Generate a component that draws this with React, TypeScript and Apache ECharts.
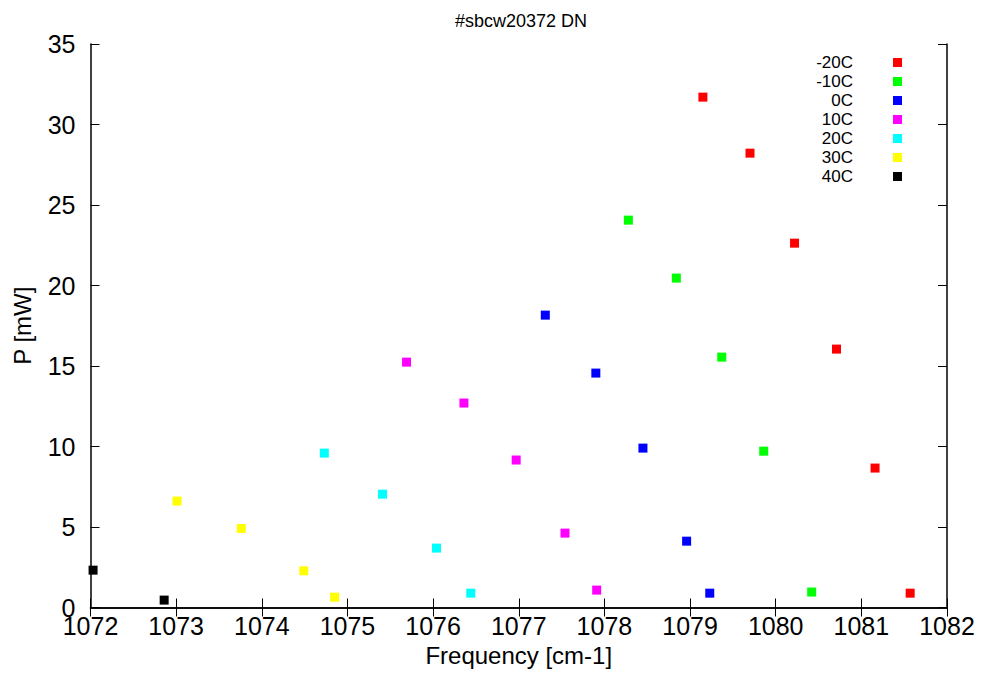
import React, { useEffect, useRef } from "react";
import * as echarts from "echarts";

const TITLE = "#sbcw20372 DN";
const X_NAME = "Frequency [cm-1]";
const Y_NAME = "P [mW]";

const SERIES_NAMES = ["-20C", "-10C", "0C", "10C", "20C", "30C", "40C"];
const SERIES_COLORS = ["#ff0000", "#00ff00", "#0000ff", "#ff00ff", "#00ffff", "#ffff00", "#000000"];

const dataM20C = [[1079.15, 31.7], [1079.7, 28.22], [1080.22, 22.63], [1080.71, 16.05], [1081.16, 8.66], [1081.57, 0.89]];
const dataM10C = [[1078.28, 24.06], [1078.84, 20.46], [1079.37, 15.55], [1079.86, 9.71], [1080.42, 0.96]];
const data0C = [[1077.31, 18.16], [1077.9, 14.56], [1078.45, 9.9], [1078.96, 4.12], [1079.23, 0.89]];
const data10C = [[1075.69, 15.24], [1076.36, 12.7], [1076.97, 9.16], [1077.54, 4.62], [1077.91, 1.08]];
const data20C = [[1074.73, 9.59], [1075.41, 7.04], [1076.04, 3.69], [1076.44, 0.89]];
const data30C = [[1073.01, 6.61], [1073.76, 4.91], [1074.49, 2.28], [1074.85, 0.64]];
const data40C = [[1072.03, 2.32], [1072.86, 0.46]];

const SERIES_DATA = [dataM20C, dataM10C, data0C, data10C, data20C, data30C, data40C];

const X_MIN = 1072;
const X_MAX = 1082;
const X_STEP = 1;
const Y_MIN = 0;
const Y_MAX = 35;
const Y_STEP = 5;

const FONT = "Liberation Sans, Arial, sans-serif";

export default function App() {
  const ref = useRef<HTMLDivElement>(null);

  useEffect(() => {
    if (!ref.current) return;
    const chart = echarts.init(ref.current, undefined, { renderer: "svg" });
    const axisLine = { show: true, lineStyle: { color: "#000", width: 1.5 } };
    const axisTick = { show: true, inside: true, length: 9, lineStyle: { color: "#000", width: 1 } };
    chart.setOption({
      animation: false,
      backgroundColor: "#fff",
      textStyle: { fontFamily: FONT },
      title: {
        text: TITLE,
        left: 516,
        top: 7,
        textAlign: "center",
        textStyle: { fontSize: 18, fontWeight: "normal", color: "#000", fontFamily: FONT },
      },
      legend: {
        orient: "vertical",
        right: 84,
        top: 53,
        align: "right",
        padding: 0,
        itemGap: 0,
        itemWidth: 9,
        itemHeight: 9,
        icon: "rect",
        data: SERIES_NAMES,
        textStyle: {
          fontSize: 17,
          color: "#000",
          fontFamily: FONT,
          lineHeight: 19,
          padding: [0, 35, 0, 0],
        },
      },
      grid: {
        left: 90.5,
        right: 39,
        top: 44,
        bottom: 67.5,
        containLabel: false,
        outerBoundsMode: "none",
      },
      xAxis: [
        {
          type: "value",
          min: X_MIN,
          max: X_MAX,
          interval: X_STEP,
          position: "bottom",
          axisLine,
          axisTick,
          splitLine: { show: false },
          axisLabel: {
            fontSize: 25,
            color: "#000",
            margin: 6,
            fontFamily: FONT,
            formatter: (v: number) => String(v),
          },
          name: X_NAME,
          nameLocation: "middle",
          nameGap: 36,
          nameTextStyle: { fontSize: 24, color: "#000", fontFamily: FONT },
        },
        {
          type: "value",
          min: X_MIN,
          max: X_MAX,
          interval: X_STEP,
          position: "top",
          axisLine,
          axisTick,
          splitLine: { show: false },
          axisLabel: { show: false },
        },
      ],
      yAxis: [
        {
          type: "value",
          min: Y_MIN,
          max: Y_MAX,
          interval: Y_STEP,
          position: "left",
          axisLine,
          axisTick,
          splitLine: { show: false },
          axisLabel: { fontSize: 25, color: "#000", margin: 15, fontFamily: FONT },
          name: Y_NAME,
          nameLocation: "middle",
          nameGap: 56,
          nameRotate: 90,
          nameTextStyle: { fontSize: 24, color: "#000", fontFamily: FONT },
        },
        {
          type: "value",
          min: Y_MIN,
          max: Y_MAX,
          interval: Y_STEP,
          position: "right",
          axisLine,
          axisTick,
          splitLine: { show: false },
          axisLabel: { show: false },
        },
      ],
      series: SERIES_NAMES.map((name, i) => ({
        name,
        type: "scatter",
        xAxisIndex: 0,
        yAxisIndex: 0,
        symbol: "rect",
        symbolSize: 9,
        itemStyle: { color: SERIES_COLORS[i], opacity: 1 },
        data: SERIES_DATA[i],
      })),
    });
    return () => chart.dispose();
  }, []);

  return (
    <div
      ref={ref}
      style={{ position: "fixed", left: 0, top: 0, width: 986, height: 675 }}
    />
  );
}
